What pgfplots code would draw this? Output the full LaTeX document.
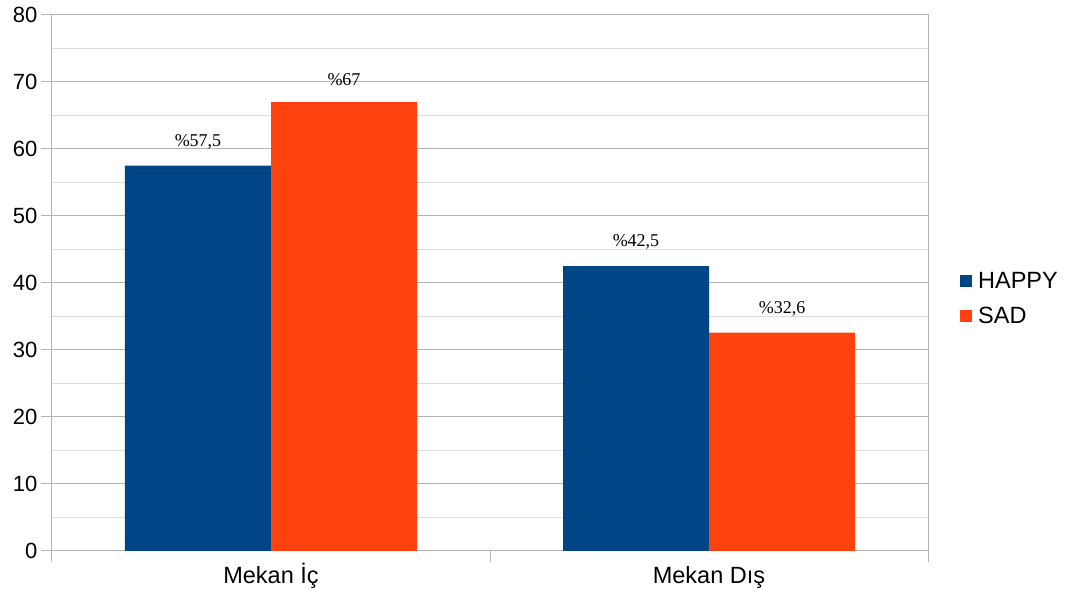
\documentclass[border=0pt]{standalone}
\usepackage{pgfplots}
\pgfplotsset{compat=1.18}
\usepackage{fontspec}
\setmainfont{Liberation Sans}
\newfontfamily\seriffont{Liberation Serif}
\definecolor{happy}{HTML}{004586}
\definecolor{sad}{HTML}{FF420E}
\definecolor{gridmaj}{HTML}{B3B3B3}
\definecolor{gridmin}{HTML}{DDDDDD}
\begin{document}
\begin{tikzpicture}
\useasboundingbox (-52pt,-48pt) rectangle (1020pt,551pt);
\begin{axis}[
  at={(0pt,0pt)}, anchor=south west,
  scale only axis, width=876pt, height=536pt,
  xmin=-0.5, xmax=1.5, ymin=0, ymax=80,
  ybar=0pt, bar width=146pt,
  axis line style={gridmaj, line width=1pt},
  xtick={-0.5,0.5,1.5}, xticklabels={},
  extra x ticks={0,1},
  extra x tick labels={Mekan İç, Mekan Dış},
  extra x tick style={major tick length=0pt, grid=none,
    tick label style={font=\fontsize{23.5}{26}\selectfont, text height=17pt, text depth=5pt, yshift=-12pt}},
  ytick={0,10,...,80},
  minor y tick num=1,
  ymajorgrids, yminorgrids,
  major grid style={gridmaj, line width=1pt},
  minor grid style={gridmin, line width=1pt},
  tick align=outside,
  major tick length=11pt, minor tick length=0pt,
  tick style={gridmaj, line width=1pt},
  xtick pos=bottom, ytick pos=left,
  yticklabel style={font=\fontsize{22}{26}\selectfont, xshift=0pt},
  /pgf/number format/assume math mode=true,
  nodes near coords={\%\pgfmathprintnumber[use comma]{\pgfplotspointmeta}},
  every node near coord/.append style={font=\seriffont\fontsize{18}{20}\selectfont, text=black, yshift=13pt},
  legend style={at={(1.0365,0.471)}, anchor=west, draw=none, fill=none,
    inner sep=0pt, row sep=13pt,
    font=\fontsize{23.5}{26}\selectfont,
    cells={anchor=west},
    /tikz/every odd column/.style={column sep=4pt}},
  legend image code/.code={\fill[#1] (0pt,-6pt) rectangle (12pt,6pt);},
  clip=false,
]
\addplot[fill=happy, draw=none] coordinates {(0,57.5) (1,42.5)};
\addplot[fill=sad, draw=none] coordinates {(0,67) (1,32.6)};
\legend{HAPPY, SAD}
\end{axis}
\end{tikzpicture}
\end{document}
